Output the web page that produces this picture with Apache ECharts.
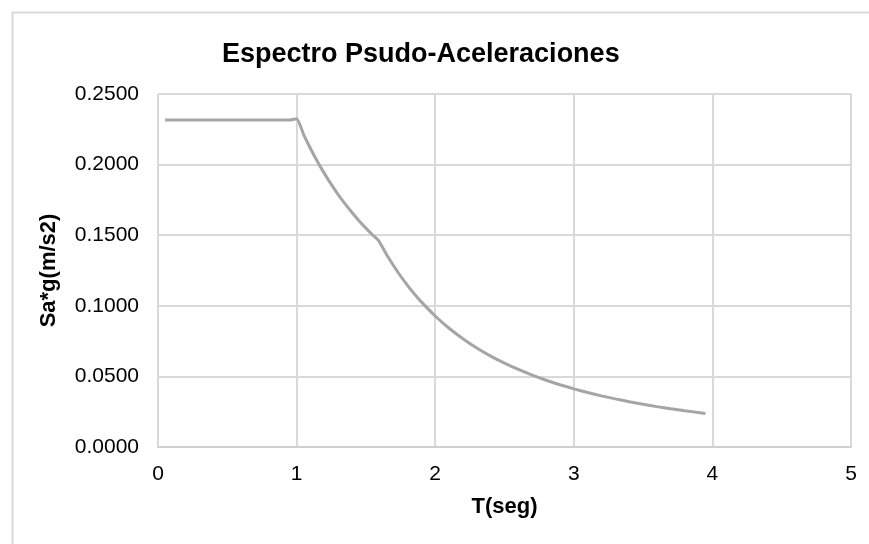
<!DOCTYPE html>
<html>
<head>
<meta charset="utf-8">
<script src="https://cdn.jsdelivr.net/npm/echarts@6/dist/echarts.min.js"></script>
<style>
html,body{margin:0;padding:0;background:#fff;}
#chart{width:869px;height:544px;}
</style>
</head>
<body>
<div id="chart"></div>
<script>
var titleText = 'Espectro Psudo-Aceleraciones';
var xName = 'T(seg)';
var yName = 'Sa*g(m/s2)';
var xTicks = [0, 1, 2, 3, 4, 5];
var yTicks = [0, 0.05, 0.10, 0.15, 0.20, 0.25];
var periodT = [0.05, 0.1, 0.2, 0.3, 0.4, 0.5, 0.6, 0.7, 0.8, 0.9, 0.95, 1.0,
  1.05, 1.1, 1.15, 1.2, 1.25, 1.3, 1.35, 1.4, 1.45, 1.5, 1.55, 1.59,
  1.65, 1.7, 1.75, 1.8, 1.85, 1.9, 2.0, 2.1, 2.2, 2.3, 2.4, 2.5, 2.6, 2.7, 2.8, 2.9,
  3.0, 3.1, 3.2, 3.3, 3.4, 3.5, 3.6, 3.7, 3.8, 3.9, 3.95];
var saValues = [0.2315, 0.2315, 0.2315, 0.2315, 0.2315, 0.2315, 0.2315, 0.2315, 0.2315, 0.2315, 0.2315, 0.2325,
  0.2214, 0.2114, 0.2022, 0.1938, 0.1860, 0.1788, 0.1722, 0.1661, 0.1603, 0.1550, 0.1500, 0.1463,
  0.1362, 0.1284, 0.1211, 0.1145, 0.1084, 0.1028, 0.0928, 0.0841, 0.0767, 0.0701, 0.0644, 0.0594, 0.0549, 0.0509, 0.0473, 0.0441,
  0.0412, 0.0386, 0.0362, 0.0341, 0.0321, 0.0303, 0.0286, 0.0271, 0.0257, 0.0244, 0.0238];

var points = periodT.map(function (t, i) { return [t, saValues[i]]; });
var font = "'Liberation Sans', Arial, sans-serif";
var chart = echarts.init(document.getElementById('chart'));
chart.setOption({
  animation: false,
  backgroundColor: '#fff',
  title: {
    text: titleText,
    left: 222, top: 41, padding: 0,
    textStyle: { fontFamily: font, fontSize: 27, fontWeight: 'bold', color: '#000' }
  },
  graphic: [{
    type: 'rect', left: 10, top: 10,
    shape: { x: 0, y: 0, width: 900, height: 600 },
    style: { fill: 'none', stroke: '#d9d9d9', lineWidth: 2 },
    silent: true, z: -1
  }],
  grid: { left: 158, right: 18, top: 94, bottom: 97 },
  xAxis: {
    type: 'value', min: xTicks[0], max: xTicks[xTicks.length - 1], interval: 1,
    name: xName, nameLocation: 'middle', nameGap: 49,
    nameTextStyle: { fontFamily: font, fontSize: 22, fontWeight: 'bold', color: '#000' },
    axisLine: { show: true, lineStyle: { color: '#d0d0d0', width: 2 } },
    axisTick: { show: false },
    axisLabel: { fontFamily: font, fontSize: 21, color: '#000', margin: 17 },
    splitLine: { show: true, lineStyle: { color: '#d9d9d9', width: 2 } }
  },
  yAxis: {
    type: 'value', min: yTicks[0], max: yTicks[yTicks.length - 1], interval: 0.05,
    name: yName, nameLocation: 'middle', nameGap: 98,
    nameTextStyle: { fontFamily: font, fontSize: 22, fontWeight: 'bold', color: '#000' },
    axisLine: { show: false },
    axisTick: { show: false },
    axisLabel: { fontFamily: font, fontSize: 21, color: '#000', margin: 19,
      formatter: function (v) { return v.toFixed(4); } },
    splitLine: { show: true, lineStyle: { color: '#d9d9d9', width: 2 } }
  },
  series: [{
    type: 'line', data: points, showSymbol: false, smooth: 0.2,
    lineStyle: { color: '#a5a5a5', width: 3 }
  }]
});
</script>
</body>
</html>
